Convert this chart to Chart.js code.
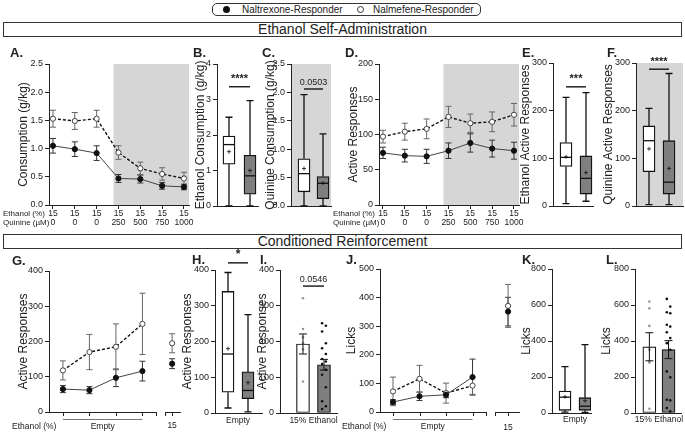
<!DOCTYPE html>
<html>
<head>
<meta charset="utf-8">
<title>Naltrexone vs Nalmefene responders</title>
<script src="https://cdn.jsdelivr.net/npm/chart.js@4.4.1/dist/chart.umd.min.js"></script>
<style>
  body { margin: 0; background: #fff; }
  #wrap { position: relative; width: 685px; height: 432px; overflow: hidden; font-family: Arial, "Liberation Sans", sans-serif; color: #222; }
  #wrap canvas { position: absolute; }
  .t { position: absolute; white-space: nowrap; line-height: 1; transform: translateY(-50%); }
  .lt { font-weight: bold; font-size: 13px; }
  .hdr { position: absolute; left: 3px; width: 677px; height: 13px; line-height: 13px; border: 1px solid #333; text-align: center; font-size: 14px; }
  #legend { position: absolute; left: 212px; top: 3px; width: 267px; height: 11px; border: 1px solid #333; border-radius: 5px; font-size: 10px; }
  #legend span { position: absolute; }
</style>
</head>
<body>
<div id="wrap">
  <div id="legend">
    <span style="left:10px;top:2px;width:7px;height:7px;border-radius:50%;background:#111"></span>
    <span style="left:29px;top:0;line-height:11px">Naltrexone-Responder</span>
    <span style="left:144px;top:2px;width:5px;height:5px;border-radius:50%;border:1.2px solid #333"></span>
    <span style="left:160px;top:0;line-height:11px">Nalmefene-Responder</span>
  </div>
  <div class="hdr" style="top:22px">Ethanol Self-Administration</div>
  <div class="hdr" style="top:234px">Conditioned Reinforcement</div>
</div>
<script>
// ---- data ----
const ethanolPct = ['15', '15', '15', '15', '15', '15', '15'];
const quinineUM = ['0', '0', '0', '250', '500', '750', '1000'];

// A. consumption (g/kg), mean and SEM
const consNal = [1.05, 0.99, 0.92, 0.47, 0.46, 0.34, 0.32];
const consNalSem = [0.13, 0.13, 0.13, 0.07, 0.07, 0.06, 0.05];
const consNmf = [1.53, 1.49, 1.53, 0.93, 0.65, 0.55, 0.47];
const consNmfSem = [0.15, 0.15, 0.15, 0.12, 0.11, 0.11, 0.11];

// D. active responses
const actNal = [74, 70, 69, 77, 88, 80, 77];
const actNalSem = [8, 9, 10, 11, 13, 12, 12];
const actNmf = [97, 104, 108, 125, 116, 118, 128];
const actNmfSem = [9, 12, 14, 15, 13, 14, 16];

// box plots: [min, q1, median, q3, max, mean]
const etohConsNal = [0, 1.18, 1.73, 1.97, 2.5, 1.53];
const etohConsNmf = [0, 0.33, 0.85, 1.43, 2.97, 1.0];
const quiConsNal = [0, 0.25, 0.57, 0.83, 1.96, 0.66];
const quiConsNmf = [0, 0.13, 0.40, 0.52, 1.27, 0.40];
const etohActNal = [5, 83, 102, 133, 228, 103];
const etohActNmf = [10, 25, 58, 105, 238, 70];
const quiActNal = [3, 72, 137, 168, 205, 120];
const quiActNmf = [3, 25, 50, 137, 278, 79];

// G. conditioned reinforcement, active responses
const crSessions = ['Empty', 'Empty', 'Empty', 'Empty', '15'];
const crActNal = [65, 62, 97, 116, 137];
const crActNalSem = [10, 10, 25, 28, 14];
const crActNmf = [118, 170, 185, 250, 195];
const crActNmfSem = [27, 50, 65, 87, 27];

// H. empty sessions, active responses
const emptyActNal = [14, 58, 165, 340, 393, 180];
const emptyActNmf = [3, 40, 63, 115, 275, 85];

// I. 15% ethanol, active responses
const etohActMean = [193, 135];
const etohActSem = [28, 15];
const etohActDotsNal = [321, 235, 212, 195, 178, 88];
const etohActDotsNmf = [251, 244, 228, 195, 181, 165, 151, 144, 137, 121, 107, 72, 33, 19, 11];

// J. licks
const crLickNal = [35, 55, 60, 122, 351];
const crLickNalSem = [8, 15, 10, 63, 50];
const crLickNmf = [72, 116, 66, 92, 371];
const crLickNmfSem = [50, 47, 35, 30, 75];

// K. empty sessions, licks
const emptyLickNal = [5, 15, 88, 122, 258, 90];
const emptyLickNmf = [3, 15, 38, 85, 380, 68];

// L. 15% ethanol, licks
const etohLickMean = [368, 352];
const etohLickSem = [78, 50];
const etohLickDotsNal = [619, 582, 484, 351, 286, 280, 24];
const etohLickDotsNmf = [634, 591, 560, 554, 490, 480, 449, 416, 388, 351, 231, 198, 74, 70, 28, 9];

// ---- setup ----
const FONT = 'Arial, "Liberation Sans", sans-serif';
const wrap = document.getElementById('wrap');
Chart.defaults.font.family = FONT;
Chart.defaults.color = '#222';
Chart.defaults.plugins.legend.display = false;
Chart.defaults.plugins.tooltip.enabled = false;

function drawErr(ctx, x, y, ds) {
  const cap = ds.capW || 3;
  ctx.save();
  ctx.strokeStyle = ds.errColor || '#333';
  ctx.lineWidth = 1;
  ds.data.forEach(d => {
    if (d.y == null || !d.e) return;
    const px = x.getPixelForValue(d.x);
    const top = y.getPixelForValue(d.y + d.e), bot = y.getPixelForValue(d.y - d.e);
    ctx.beginPath();
    ctx.moveTo(px, top); ctx.lineTo(px, bot);
    ctx.moveTo(px - cap, top); ctx.lineTo(px + cap, top);
    ctx.moveTo(px - cap, bot); ctx.lineTo(px + cap, bot);
    ctx.stroke();
  });
  ctx.restore();
}

// shading, error bars, whiskers, significance bars and extra axis text
const annot = {
  id: 'annot',
  beforeDraw(chart, args, o) {
    if (o.shadeFrom === undefined) return;
    const { ctx, chartArea: a, scales: { x } } = chart;
    const x0 = Math.max(a.left, x.getPixelForValue(o.shadeFrom));
    ctx.save();
    ctx.fillStyle = '#d6d6d6';
    ctx.fillRect(x0, a.top, a.right - x0, a.bottom - a.top);
    ctx.restore();
  },
  beforeDatasetsDraw(chart) {
    const { ctx, scales: { x, y } } = chart;
    chart.data.datasets.forEach(ds => {
      if (ds.data.some(d => d.e) && !ds.errOnTop) drawErr(ctx, x, y, ds);
      if (ds.stats) {
        ctx.save();
        ctx.strokeStyle = '#111';
        ctx.lineWidth = 1.3;
        ds.stats.forEach((s, i) => {
          const px = x.getPixelForValue(i + 1);
          const [mn, q1, , q3, mx] = s.map(v => y.getPixelForValue(v));
          ctx.beginPath();
          ctx.moveTo(px, mn); ctx.lineTo(px, q1);
          ctx.moveTo(px, q3); ctx.lineTo(px, mx);
          ctx.moveTo(px - 3.5, mn); ctx.lineTo(px + 3.5, mn);
          ctx.moveTo(px - 3.5, mx); ctx.lineTo(px + 3.5, mx);
          ctx.stroke();
        });
        ctx.restore();
      }
    });
  },
  afterDatasetsDraw(chart, args, o) {
    const { ctx, chartArea: a, scales: { x, y } } = chart;
    chart.data.datasets.forEach((ds, di) => {
      if (ds.errOnTop) drawErr(ctx, x, y, ds);
      if (ds.stats) {
        const meta = chart.getDatasetMeta(di);
        ctx.save();
        ctx.strokeStyle = '#111';
        ds.stats.forEach((s, i) => {
          const px = x.getPixelForValue(i + 1), hw = meta.data[i].width / 2;
          const med = y.getPixelForValue(s[2]), mean = y.getPixelForValue(s[5]);
          ctx.lineWidth = 1.3;
          ctx.beginPath();
          ctx.moveTo(px - hw, med); ctx.lineTo(px + hw, med);
          ctx.stroke();
          ctx.lineWidth = 0.8;
          ctx.beginPath();
          ctx.moveTo(px - 2, mean); ctx.lineTo(px + 2, mean);
          ctx.moveTo(px, mean - 2); ctx.lineTo(px, mean + 2);
          ctx.stroke();
        });
        ctx.restore();
      }
    });
    ctx.save();
    ctx.fillStyle = '#222';
    ctx.strokeStyle = '#222';
    if (o.sig) {
      const ly = y.getPixelForValue(o.sig.y);
      const x1 = x.getPixelForValue(o.sig.x1), x2 = x.getPixelForValue(o.sig.x2);
      ctx.lineWidth = 1.5;
      ctx.beginPath(); ctx.moveTo(x1, ly); ctx.lineTo(x2, ly); ctx.stroke();
      ctx.font = o.sig.font || ('9px ' + FONT);
      ctx.textAlign = 'center';
      ctx.textBaseline = 'bottom';
      ctx.fillText(o.sig.text, (x1 + x2) / 2, ly - 2);
    }
    if (o.cat) {
      ctx.font = '8.5px ' + FONT;
      ctx.textAlign = 'center';
      ctx.textBaseline = 'middle';
      ethanolPct.forEach((lab, i) => {
        const px = x.getPixelForValue(i + 1);
        ctx.fillText(lab, px, a.bottom + 9);
        ctx.fillText(quinineUM[i], px, a.bottom + 18);
      });
    }
    if (o.broken) {
      ctx.lineWidth = 1;
      ctx.beginPath();
      o.broken.segs.forEach(([s, e]) => {
        ctx.moveTo(x.getPixelForValue(s), a.bottom + 0.5);
        ctx.lineTo(x.getPixelForValue(e), a.bottom + 0.5);
      });
      o.broken.ticks.forEach(v => {
        const px = Math.round(x.getPixelForValue(v)) + 0.5;
        ctx.moveTo(px, a.bottom); ctx.lineTo(px, a.bottom + 4);
      });
      ctx.stroke();
      const [s0, s1] = o.broken.span;
      ctx.strokeStyle = '#777';
      ctx.beginPath();
      ctx.moveTo(x.getPixelForValue(s0), a.bottom + 7.5);
      ctx.lineTo(x.getPixelForValue(s1), a.bottom + 7.5);
      ctx.stroke();
    }
    (o.xtext || []).forEach(tx => {
      ctx.font = '8.5px ' + FONT;
      ctx.textAlign = 'center';
      ctx.textBaseline = 'middle';
      ctx.fillText(tx.text, x.getPixelForValue(tx.x), a.bottom + tx.dy);
    });
    ctx.restore();
  }
};
Chart.register(annot);

// one canvas per panel; g gives the plot area in page pixels
function panel(g, config) {
  const left = g.titleX - 7, pt = g.pt ?? 8, top = g.t - pt;
  const pb = g.pb ?? 14, pr = g.pr ?? 4;
  const cv = document.createElement('canvas');
  cv.width = g.r + pr - left;
  cv.height = g.b + pb - top;
  cv.style.left = left + 'px';
  cv.style.top = top + 'px';
  wrap.appendChild(cv);
  const o = config.options;
  o.responsive = false;
  o.animation = false;
  o.scales.y.afterFit = s => { s.width = g.l - left; };
  // hidden x scales still keep this height in the layout
  o.scales.x.afterFit = s => { s.height = pb; };
  o.layout = { padding: { top: pt, right: pr, left: 0, bottom: 0 } };
  return new Chart(cv, config);
}

function yAxis(max, step, title, digits) {
  return {
    type: 'linear', min: 0, max,
    ticks: { stepSize: step, font: { size: 9 }, padding: 2, color: '#222',
             callback: v => digits ? v.toFixed(digits) : v },
    grid: { drawOnChartArea: false, tickLength: 4, color: '#222' },
    border: { color: '#222' },
    title: { display: true, text: title, font: { size: 12 }, color: '#222', padding: { top: 0, bottom: 0 } }
  };
}

function plainX(min, max, extra) {
  return Object.assign({ type: 'linear', min, max, offset: false,
    ticks: { display: false }, grid: { display: false }, border: { color: '#222' } }, extra || {});
}

function catX() {
  return plainX(0.818, 7.23, {
    grid: { drawOnChartArea: false, tickLength: 4, color: '#222' },
    afterBuildTicks: s => { s.ticks = ethanolPct.map((_, i) => ({ value: i + 1 })); }
  });
}

function lineSet(vals, sems, xs, open, gapAt) {
  const data = vals.map((v, i) => ({ x: xs[i], y: v, e: sems[i] }));
  if (gapAt) data.splice(gapAt, 0, { x: (xs[gapAt - 1] + xs[gapAt]) / 2, y: null });
  const base = { data, spanGaps: false, pointRadius: 2.6, pointBorderWidth: 1 };
  return open
    ? Object.assign(base, { borderColor: '#111', borderWidth: 1.4, borderDash: [3, 2],
        pointBackgroundColor: '#fff', pointBorderColor: '#444', errColor: '#666' })
    : Object.assign(base, { borderColor: '#444', borderWidth: 1,
        pointBackgroundColor: '#111', pointBorderColor: '#111', errColor: '#333' });
}

function boxPanel(g, sa, sb, xr, yax, extra) {
  return panel(g, {
    type: 'bar',
    data: { datasets: [{
      data: [{ x: 1, y: [sa[1], sa[3]] }, { x: 2, y: [sb[1], sb[3]] }],
      stats: [sa, sb],
      backgroundColor: ['#fff', '#7f7f7f'], borderColor: '#111', borderWidth: 1.3,
      borderSkipped: false, barThickness: 12
    }] },
    options: { scales: { x: plainX(xr[0], xr[1]), y: yax }, plugins: { annot: extra } }
  });
}

function meanPanel(g, means, sems, dotsA, dotsB, xr, yax, extra) {
  return panel(g, {
    type: 'bar',
    data: { datasets: [
      { data: means.map((m, i) => ({ x: i + 1, y: m, e: sems[i] })), order: 3,
        backgroundColor: ['#fff', '#7f7f7f'], borderColor: '#111', borderWidth: 1.2,
        borderSkipped: false, barThickness: 13, errOnTop: true, errColor: '#111', capW: 4 },
      { type: 'scatter', order: 1, data: dotsA.map(v => ({ x: 1, y: v })),
        pointRadius: 1.3, pointBorderWidth: 0, pointBackgroundColor: '#999' },
      { type: 'scatter', order: 1, data: dotsB.map((v, i) => ({ x: 2 + (i % 2 ? 0.09 : -0.09), y: v })),
        pointRadius: 1.3, pointBorderWidth: 0, pointBackgroundColor: '#111' }
    ] },
    options: { scales: { x: plainX(xr[0], xr[1]), y: yax }, plugins: { annot: extra } }
  });
}

const xs7 = ethanolPct.map((_, i) => i + 1);
const xsG = crSessions.map((_, i) => i < 4 ? i + 1 : 5.12);
const xsJ = crSessions.map((_, i) => i < 4 ? i + 1 : 5.34);

// A
panel({ l: 49, t: 64, r: 190, b: 205, titleX: 23, pb: 26 }, {
  type: 'line',
  data: { datasets: [lineSet(consNal, consNalSem, xs7, false), lineSet(consNmf, consNmfSem, xs7, true)] },
  options: { scales: { x: catX(), y: yAxis(2.5, 0.5, 'Consumption (g/kg)', 1) },
             plugins: { annot: { shadeFrom: 3.77, cat: true } } }
});
// B
boxPanel({ l: 217, t: 64, r: 258, b: 206, titleX: 200 }, etohConsNal, etohConsNmf, [0.43, 2.38],
  yAxis(4, 1, 'Ethanol Consumption (g/kg)'),
  { sig: { x1: 1, x2: 2, y: 3.36, text: '****', font: 'bold 11px ' + FONT } });
// C
boxPanel({ l: 291, t: 64, r: 331, b: 206, titleX: 270 }, quiConsNal, quiConsNmf, [0.316, 2.42],
  yAxis(2.5, 0.5, 'Quinine Consumption (g/kg)', 1),
  { shadeFrom: 0, sig: { x1: 1, x2: 2, y: 2.06, text: '0.0503' } });
// D
panel({ l: 379, t: 64, r: 520, b: 205, titleX: 353, pb: 26 }, {
  type: 'line',
  data: { datasets: [lineSet(actNal, actNalSem, xs7, false), lineSet(actNmf, actNmfSem, xs7, true)] },
  options: { scales: { x: catX(), y: yAxis(200, 50, 'Active Responses') },
             plugins: { annot: { shadeFrom: 3.77, cat: true } } }
});
// E
boxPanel({ l: 553, t: 63, r: 593, b: 206, titleX: 525 }, etohActNal, etohActNmf, [0.35, 2.35],
  yAxis(300, 100, 'Ethanol Active Responses'),
  { sig: { x1: 1, x2: 2, y: 250, text: '***', font: 'bold 11px ' + FONT } });
// F
boxPanel({ l: 636, t: 63, r: 683, b: 206, titleX: 608, pr: 2 }, quiActNal, quiActNmf, [0.35, 2.7],
  yAxis(300, 100, 'Quinine Active Responses'),
  { shadeFrom: 0, sig: { x1: 1, x2: 2, y: 287, text: '****', font: 'bold 11px ' + FONT } });

// G
panel({ l: 49, t: 271, r: 182, b: 412, titleX: 23, pb: 22 }, {
  type: 'line',
  data: { datasets: [lineSet(crActNal, crActNalSem, xsG, false, 4), lineSet(crActNmf, crActNmfSem, xsG, true, 4)] },
  options: { scales: { x: plainX(0.475, 5.455, { display: false }), y: yAxis(400, 100, 'Active Responses') },
             plugins: { annot: {
               broken: { segs: [[0.475, 4.52], [4.86, 5.455]], ticks: [1, 2, 3, 4, 4.52, 4.86, 5.12], span: [1, 4] },
               xtext: [{ x: 2.5, text: crSessions[0], dy: 15 }, { x: 5.12, text: crSessions[4], dy: 14 }] } } }
});
// H
boxPanel({ l: 215, t: 270, r: 262, b: 413, titleX: 187, pt: 24 }, emptyActNal, emptyActNmf, [0.35, 2.7],
  yAxis(400, 100, 'Active Responses'),
  { sig: { x1: 1, x2: 2, y: 420, text: '*', font: 'bold 12px ' + FONT },
    xtext: [{ x: 1.5, text: 'Empty', dy: 8 }] });
// I
meanPanel({ l: 280, t: 270, r: 337, b: 413, titleX: 262 }, etohActMean, etohActSem,
  etohActDotsNal, etohActDotsNmf, [-0.095, 2.62], yAxis(400, 100, 'Active Responses'),
  { sig: { x1: 1, x2: 2, y: 355, text: '0.0546' }, xtext: [{ x: 1.5, text: '15% Ethanol', dy: 8 }] });
// J
panel({ l: 380, t: 269, r: 521, b: 412, titleX: 351, pb: 22 }, {
  type: 'line',
  data: { datasets: [lineSet(crLickNal, crLickNalSem, xsJ, false, 4), lineSet(crLickNmf, crLickNmfSem, xsJ, true, 4)] },
  options: { scales: { x: plainX(0.51, 5.79, { display: false }), y: yAxis(500, 100, 'Licks') },
             plugins: { annot: {
               broken: { segs: [[0.51, 4.52], [4.86, 5.79]], ticks: [1, 2, 3, 4, 4.52, 4.86, 5.34], span: [1, 4] },
               xtext: [{ x: 2.5, text: crSessions[0], dy: 15 }, { x: 5.34, text: crSessions[4], dy: 16 }] } } }
});
// K
boxPanel({ l: 552, t: 269, r: 591, b: 413, titleX: 526 }, emptyLickNal, emptyLickNmf, [0.35, 2.3],
  yAxis(800, 200, 'Licks'), { xtext: [{ x: 1.5, text: 'Empty', dy: 7 }] });
// L
meanPanel({ l: 635, t: 269, r: 683, b: 413, titleX: 606, pr: 2 }, etohLickMean, etohLickSem,
  etohLickDotsNal, etohLickDotsNmf, [0.25, 2.65], yAxis(800, 200, 'Licks'),
  { xtext: [{ x: 1.5, text: '15% Ethanol', dy: 7 }] });

// panel letters and row labels
function label(x, y, text, cls, size) {
  const d = document.createElement('div');
  d.className = 't ' + (cls || '');
  d.textContent = text;
  d.style.left = x + 'px';
  d.style.top = y + 'px';
  if (size) d.style.fontSize = size + 'px';
  wrap.appendChild(d);
}
[['A.', 10, 52], ['B.', 193, 52], ['C.', 262, 52], ['D.', 345, 52], ['E.', 522, 52], ['F.', 607, 52],
 ['G.', 12, 260], ['H.', 192, 259], ['I.', 260, 259], ['J.', 346, 259], ['K.', 522, 259], ['L.', 606, 259]]
  .forEach(([s, x, y]) => label(x, y, s, 'lt'));
label(3, 214, 'Ethanol (%)', '', 8);
label(3, 223, 'Quinine (µM)', '', 8);
label(333, 214, 'Ethanol (%)', '', 8);
label(333, 223, 'Quinine (µM)', '', 8);
label(12, 426, 'Ethanol (%)', '', 8.5);
label(342, 426, 'Ethanol (%)', '', 8.5);
</script>
</body>
</html>
